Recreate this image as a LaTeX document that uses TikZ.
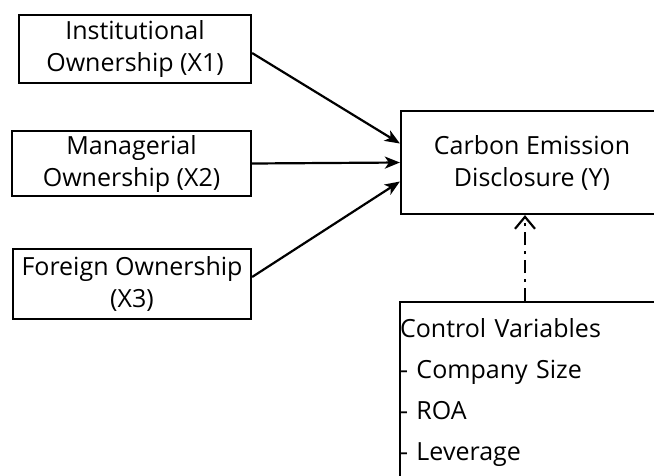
\documentclass[tikz,border=0pt]{standalone}
\usepackage{fontspec}
\setmainfont{Open Sans}
\usetikzlibrary{arrows.meta}
\begin{document}
\begin{tikzpicture}[x=1pt,y=-1pt,
  box/.style={draw=black, line width=2.2pt, inner sep=0pt, align=center,
    font=\fontsize{25}{32}\selectfont},
  ctrlbox/.style={draw=black, line width=2.2pt, inner sep=0pt, align=left,
    text width=275pt, font=\fontsize{25}{41}\selectfont},
  arr/.style={line width=2.2pt, -{Stealth[length=15pt,width=12pt,inset=4pt]}},
  dasharr/.style={line width=2.2pt, dash pattern=on 13pt off 6pt on 3pt off 6pt,
    -{Straight Barb[length=12pt,width=20pt,line width=2.2pt]}}]
\useasboundingbox (0,0) rectangle (654,475);
\clip (0,0) rectangle (654,475);
\node[box, minimum width=232pt, minimum height=68pt] (b1) at (135,49) {Institutional\\Ownership (X1)};
\node[box, minimum width=239pt, minimum height=65pt] (b2) at (131.5,163.5) {Managerial\\Ownership (X2)};
\node[box, minimum width=238pt, minimum height=70pt] (b3) at (132,284) {Foreign Ownership\\(X3)};
\node[box, minimum width=262pt, minimum height=103pt] (y) at (532,162.5) {Carbon Emission\\Disclosure (Y)};
\node[ctrlbox, anchor=north west] (c) at (399,301) {\rule{0pt}{35pt}Control Variables\\- Company Size\\- ROA\\- Leverage\rule[-22pt]{0pt}{22pt}};
\coordinate (cn) at ([xshift=126pt]c.north west);
\draw[arr] ([yshift=-4pt]b1.east) -- ([yshift=19pt]y.west);
\draw[arr] (b2.east) -- (y.west);
\draw[arr] ([yshift=7pt]b3.east) -- ([yshift=-19pt]y.west);
\draw[dasharr] (cn) -- (cn |- y.south);
\end{tikzpicture}
\end{document}
